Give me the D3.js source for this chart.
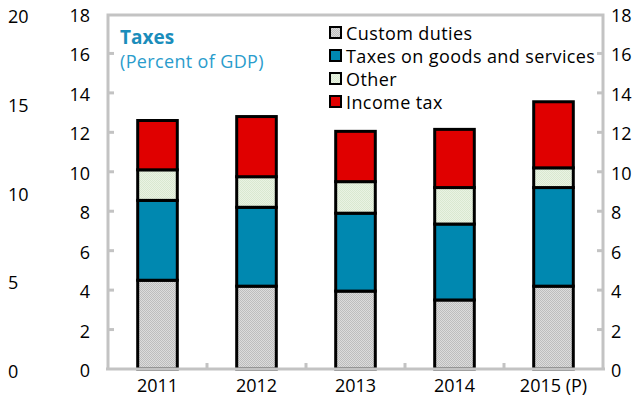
<!DOCTYPE html>
<html>
<head>
<meta charset="utf-8">
<script src="https://cdn.jsdelivr.net/npm/d3@7"></script>
<style>
  html, body { margin: 0; padding: 0; background: #fff; }
  svg { display: block; font-family: "Open Sans", "Noto Sans", sans-serif; }
</style>
</head>
<body>
<svg id="chart" width="643" height="409"></svg>
<script>
// Tax revenue by type, percent of GDP
const years = ["2011", "2012", "2013", "2014", "2015 (P)"];
const customDuties = [4.5, 4.2, 3.95, 3.5, 4.2];
const goodsServices = [4.05, 4.0, 3.95, 3.85, 5.0];
const otherTaxes = [1.55, 1.55, 1.6, 1.85, 1.0];
const incomeTax = [2.5, 3.05, 2.55, 2.95, 3.35];

const seriesNames = ["Custom duties", "Taxes on goods and services", "Other", "Income tax"];
const leftTicks = [0, 2, 4, 6, 8, 10, 12, 14, 16, 18];
const outerTicks = [0, 5, 10, 15, 20];

const rows = years.map((y, i) => ({
  year: y,
  "Custom duties": customDuties[i],
  "Taxes on goods and services": goodsServices[i],
  "Other": otherTaxes[i],
  "Income tax": incomeTax[i]
}));

const svg = d3.select("#chart");
const frame = { left: 108, right: 603, top: 15, bottom: 369 };
const y0 = 369, y18 = 14;

const x = d3.scaleBand().domain(years).range([frame.left, frame.right]).paddingInner(0.6).paddingOuter(0.3);
const xBand = d3.scaleBand().domain(years).range([frame.left, frame.right]);
const y = d3.scaleLinear().domain([0, 18]).range([y0, y18]);
const yOuter = d3.scaleLinear().domain([0, 20]).range([y0, y18]);

// Fine textured fills for the patterned segments
const defs = svg.append("defs");
function texture(id, bg, fg) {
  const p = defs.append("pattern").attr("id", id).attr("patternUnits", "userSpaceOnUse")
    .attr("width", 2).attr("height", 2);
  p.append("rect").attr("width", 2).attr("height", 2).attr("fill", bg);
  p.append("rect").attr("width", 1).attr("height", 1).attr("fill", fg);
  p.append("rect").attr("x", 1).attr("y", 1).attr("width", 1).attr("height", 1).attr("fill", fg);
}
texture("pat-gray", "#dcdcdc", "#bdbdbd");
texture("pat-green", "#eaf3e4", "#d9e8d0");

const fills = {
  "Custom duties": "url(#pat-gray)",
  "Taxes on goods and services": "#0088b0",
  "Other": "url(#pat-green)",
  "Income tax": "#e00000"
};

const stack = d3.stack().keys(seriesNames)(rows);

// Bars
svg.append("g").selectAll("g").data(stack).join("g")
  .attr("fill", d => fills[d.key])
  .selectAll("rect").data(d => d).join("rect")
  .attr("x", d => x(d.data.year))
  .attr("width", x.bandwidth())
  .attr("y", d => y(d[1]))
  .attr("height", d => y(d[0]) - y(d[1]))
  .attr("stroke", "#000").attr("stroke-width", 3);

// Frame lines (left, top, right, bottom)
const gray = "#c3c3c3";
const fr = svg.append("g").attr("stroke", gray).attr("stroke-width", 3).attr("fill", "none");
fr.append("path").attr("d", `M${frame.left},${frame.bottom}V${frame.top}H${frame.right}V${frame.bottom}`);
fr.append("line").attr("x1", frame.left - 2).attr("x2", frame.right + 2).attr("y1", frame.bottom).attr("y2", frame.bottom);

// Inward ticks on left and right
const tickMarks = svg.append("g").attr("stroke", gray).attr("stroke-width", 3);
leftTicks.slice(1, -1).forEach(t => {
  tickMarks.append("line").attr("x1", frame.left).attr("x2", frame.left + 6).attr("y1", y(t)).attr("y2", y(t));
  tickMarks.append("line").attr("x1", frame.right).attr("x2", frame.right - 6).attr("y1", y(t)).attr("y2", y(t));
});
// Category separators on the bottom axis
years.slice(1).forEach(yr => {
  tickMarks.append("line").attr("x1", xBand(yr)).attr("x2", xBand(yr)).attr("y1", frame.bottom).attr("y2", frame.bottom - 6);
});

// Axis labels
const labelStyle = sel => sel.attr("font-size", 18).attr("fill", "#000").attr("dominant-baseline", "central");
svg.append("g").selectAll("text").data(leftTicks).join("text")
  .call(labelStyle).attr("text-anchor", "end").attr("x", 90).attr("y", d => y(d) + 1).text(d => d);
svg.append("g").selectAll("text").data(leftTicks).join("text")
  .call(labelStyle).attr("text-anchor", "start").attr("x", 611).attr("y", d => y(d) + 1).text(d => d);
svg.append("g").selectAll("text").data(outerTicks).join("text")
  .call(labelStyle).attr("text-anchor", "start").attr("x", 8).attr("y", d => yOuter(d) + 2).text(d => d);
svg.append("g").selectAll("text").data(years).join("text")
  .call(labelStyle).attr("text-anchor", "middle")
  .attr("x", d => xBand(d) + xBand.bandwidth() / 2).attr("y", 385).text(d => d);

// Title
svg.append("text").attr("x", 120).attr("y", 44).attr("font-size", 19).attr("font-weight", "bold")
  .attr("fill", "#1b8dbb").text("Taxes");
svg.append("text").attr("x", 120).attr("y", 68).attr("font-size", 18).attr("letter-spacing", 0.35)
  .attr("fill", "#2a9ccc").text("(Percent of GDP)");

// Legend
const leg = svg.append("g").selectAll("g").data(seriesNames).join("g")
  .attr("transform", (d, i) => `translate(330, ${33 + i * 23})`);
leg.append("rect").attr("x", 0).attr("y", -6).attr("width", 11).attr("height", 11)
  .attr("fill", d => fills[d]).attr("stroke", "#000").attr("stroke-width", 2);
leg.append("text").attr("x", 16).attr("y", 0).attr("dominant-baseline", "central")
  .attr("font-size", 18).attr("letter-spacing", 0.4).attr("fill", "#000").text(d => d);
</script>
</body>
</html>
